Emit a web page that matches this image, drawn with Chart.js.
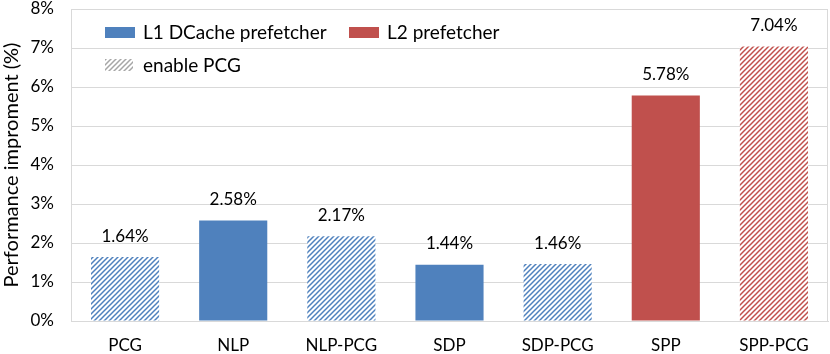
<!DOCTYPE html>
<html>
<head>
<meta charset="utf-8">
<script src="https://cdn.jsdelivr.net/npm/chart.js@4.4.1/dist/chart.umd.min.js"></script>
<style>
  html, body { margin: 0; padding: 0; background: #fff; }
  #wrap { width: 830px; height: 354px; position: relative; }
</style>
</head>
<body>
<div id="wrap"><canvas id="chart"></canvas></div>
<script>
const categories = ["PCG", "NLP", "NLP-PCG", "SDP", "SDP-PCG", "SPP", "SPP-PCG"];
const values = [1.64, 2.58, 2.17, 1.44, 1.46, 5.78, 7.04];
// which prefetcher each bar belongs to, and whether PCG is on
const groups = ["L1", "L1", "L1", "L1", "L1", "L2", "L2"];
const pcgOn = [true, false, true, false, true, false, true];
const legendLabels = ["L1 DCache prefetcher", "L2 prefetcher", "enable PCG"];

const BLUE = "#4f81bd";
const RED = "#c0504d";
const FONT = "Lato, 'Open Sans', sans-serif";

function hatch(color) {
  const size = 5;
  const c = document.createElement("canvas");
  c.width = size;
  c.height = size;
  const g = c.getContext("2d");
  g.fillStyle = "#fff";
  g.fillRect(0, 0, size, size);
  g.strokeStyle = color;
  g.lineWidth = 1.5;
  g.beginPath();
  g.moveTo(-1, size + 1);
  g.lineTo(size + 1, -1);
  g.moveTo(-1, 1);
  g.lineTo(1, -1);
  g.moveTo(size - 1, size + 1);
  g.lineTo(size + 1, size - 1);
  g.stroke();
  return g.createPattern(c, "repeat");
}

const ctx = document.getElementById("chart").getContext("2d");

const colors = values.map((v, i) => {
  const base = groups[i] === "L1" ? BLUE : RED;
  return pcgOn[i] ? hatch(base) : base;
});

const valueLabels = {
  id: "valueLabels",
  afterDatasetsDraw(chart) {
    const c = chart.ctx;
    const meta = chart.getDatasetMeta(0);
    c.save();
    c.font = "17px " + FONT;
    c.fillStyle = "#000";
    c.textAlign = "center";
    c.textBaseline = "middle";
    meta.data.forEach((bar, i) => {
      c.fillText(values[i].toFixed(2) + "%", bar.x, bar.y - 21);
    });
    c.restore();
  },
};

const boxLegend = {
  id: "boxLegend",
  afterDraw(chart) {
    const c = chart.ctx;
    c.save();
    c.font = "19px " + FONT;
    c.textBaseline = "middle";
    c.fillStyle = BLUE;
    c.fillRect(105, 27, 30, 11);
    c.fillStyle = RED;
    c.fillRect(349, 27, 30, 11);
    c.fillStyle = hatch("#a6a6a6");
    c.fillRect(105, 59, 28, 12);
    c.fillStyle = "#000";
    c.fillText(legendLabels[0], 143, 33);
    c.fillText(legendLabels[1], 387, 33);
    c.fillText(legendLabels[2], 143, 66);
    c.restore();
  },
};

const plotBorder = {
  id: "plotBorder",
  afterDraw(chart) {
    const a = chart.chartArea;
    const c = chart.ctx;
    c.save();
    c.strokeStyle = "#d9d9d9";
    c.lineWidth = 1;
    c.strokeRect(a.left + 0.5, a.top + 0.5, a.right - a.left - 1, a.bottom - a.top);
    c.restore();
  },
};

new Chart(ctx, {
  type: "bar",
  data: {
    labels: categories,
    datasets: [
      {
        data: values,
        backgroundColor: colors,
        borderWidth: 0,
        categoryPercentage: 1,
        barPercentage: 0.63,
      },
    ],
  },
  options: {
    responsive: true,
    maintainAspectRatio: false,
    animation: false,
    layout: { autoPadding: false, padding: { top: 9, right: 2, bottom: 0, left: 0 } },
    plugins: {
      legend: { display: false },
      tooltip: { enabled: false },
    },
    scales: {
      x: {
        afterFit(scale) {
          scale.height = 33;
        },
        grid: { display: false },
        border: { color: "#d9d9d9" },
        ticks: { color: "#000", font: { family: FONT, size: 17 }, padding: 6 },
      },
      y: {
        min: 0,
        max: 8,
        afterFit(scale) {
          scale.width = 71;
          scale.paddingTop = 0;
          scale.paddingBottom = 0;
        },
        ticks: {
          stepSize: 1,
          color: "#000",
          font: { family: FONT, size: 17 },
          padding: 17,
          callback: (v) => v + "%",
        },
        grid: { color: "#d9d9d9", drawTicks: false },
        border: { color: "#d9d9d9" },
        title: {
          display: true,
          text: "Performance improment (%)",
          color: "#000",
          font: { family: FONT, size: 20 },
          padding: 0,
        },
      },
    },
  },
  plugins: [valueLabels, boxLegend, plotBorder],
});
</script>
</body>
</html>
